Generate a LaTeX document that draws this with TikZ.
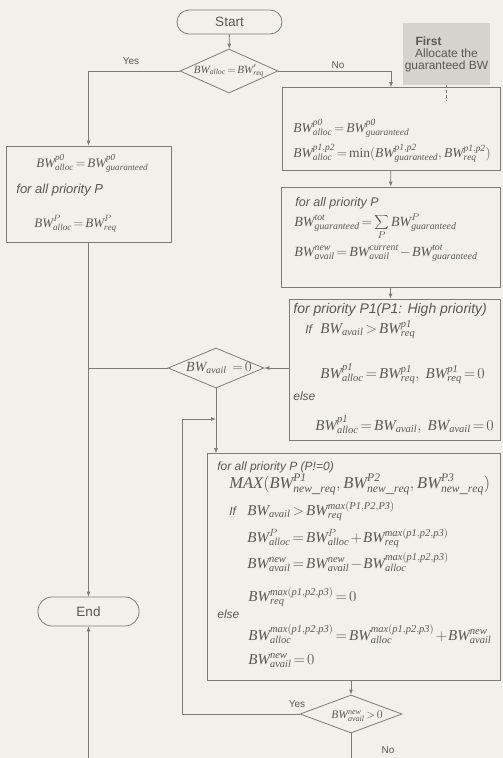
\documentclass[tikz,border=0pt]{standalone}
\usepackage{fix-cm}
\usepackage{fontspec}
\setmainfont{Liberation Serif}
\newfontfamily\flowfont{Liberation Sans}
\usetikzlibrary{arrows.meta, positioning, shapes.geometric, calc}
\definecolor{paper}{RGB}{243,240,234}
\definecolor{linegray}{RGB}{128,122,117}
\definecolor{inkgray}{RGB}{92,87,83}
\definecolor{notegray}{RGB}{214,210,204}
\newcommand{\BW}{\mathit{BW}}
\newcommand{\tw}[1]{\mathit{#1}}
\newcommand{\eqsize}[1]{\fontsize{#1}{#1}\selectfont}
\thickmuskip=2.5mu plus 1mu
\medmuskip=1.5mu plus 1mu
\tikzset{
  box/.style={rectangle, draw=linegray, inner sep=0pt},
  decision/.style={diamond, draw=linegray, inner sep=0pt},
  terminal/.style={rectangle, rounded corners=12pt, draw=linegray, text=inkgray,
              font=\flowfont\eqsize{13.5}},
  note/.style={rectangle, fill=notegray, inner sep=0pt, align=center, text=inkgray,
              font=\flowfont\eqsize{12}},
  flow/.style={-{Latex[length=5pt, width=4pt]}, draw=linegray},
  link/.style={draw=linegray},
  eq/.style={anchor=base west, inner sep=0pt, text=inkgray},
  cmt/.style={anchor=base west, inner sep=0pt, text=inkgray, font=\flowfont\itshape\eqsize{12}},
  yesno/.style={inner sep=0pt, text=inkgray, font=\flowfont\eqsize{10}},
}

\begin{document}
\begin{tikzpicture}[x=1pt, y=-1pt, line width=0.8pt]
    \clip (0,0) rectangle (503,758);
    \fill[paper] (0,0) rectangle (503,758);

    % shapes of the flow
    \node[terminal, minimum width=105pt, minimum height=24pt] (start) at (229.5,22) {Start};
    \node[decision, minimum width=98pt, minimum height=44pt] (d1) at (229,71) {};
    \node[note, minimum width=87pt, minimum height=62pt] (note) at (446.5,54)
        {\makebox[62pt][l]{\textbf{First}}\\ Allocate the\\ guaranteed BW};
    \node[box, minimum width=218pt, minimum height=83pt] (box1) at (391,129) {};
    \node[box, minimum width=219pt, minimum height=100pt] (box2) at (390.5,237) {};
    \node[box, minimum width=211pt, minimum height=141pt] (box3) at (394.5,369.5) {};
    \node[box, minimum width=165pt, minimum height=96pt] (lbox) at (88.5,194) {};
    \node[decision, minimum width=96pt, minimum height=40pt] (d2) at (216,368) {};
    \node[box, minimum width=293pt, minimum height=227pt] (box4) at (353.5,567) {};
    \node[decision, minimum width=102pt, minimum height=38pt] (d3) at (351,714) {};
    \node[terminal, minimum width=101pt, minimum height=29pt, rounded corners=14pt] (endn) at (88.5,611.5) {End};

    % texts of the decisions
    \node[eq, anchor=center, font=\eqsize{11}] (d1txt) at (d1) {$\BW_{\tw{alloc}}=\BW'_{\tw{req}}$};
    \node[eq, anchor=center, font=\eqsize{14}] (d2txt) at (219,368) {$\BW_{\tw{avail}}\;\;=0$};
    \node[eq, anchor=center, font=\eqsize{11.5}] (d3txt) at (357,716) {$\BW^{\tw{new}}_{\tw{avail}}>0$};

    % box 1
    \node[eq, font=\eqsize{13.5}] (b1a) at (293,132) {$\BW^{\tw{p0}}_{\tw{alloc}}=\BW^{\tw{p0}}_{\tw{guaranteed}}$};
    \node[eq, font=\eqsize{13.5}] (b1b) at (293,157)
        {$\BW^{\tw{p1,p2}}_{\tw{alloc}}=\min(\BW^{\tw{p1,p2}}_{\tw{guaranteed}},\BW^{\tw{p1,p2}}_{\tw{req}})$};

    % box 2
    \node[cmt, font=\flowfont\itshape\eqsize{12.5}] (b2t) at (295,206) {for all priority P};
    \node[eq, font=\eqsize{14}] (b2a) at (294,226)
        {$\displaystyle\BW^{\tw{tot}}_{\tw{guaranteed}}=\sum_{P}\BW^{P}_{\tw{guaranteed}}$};
    \node[eq, font=\eqsize{14}] (b2b) at (294,256)
        {$\BW^{\tw{new}}_{\tw{avail}}=\BW^{\tw{current}}_{\tw{avail}}-\BW^{\tw{tot}}_{\tw{guaranteed}}$};

    % box 3
    \node[cmt, font=\flowfont\itshape\eqsize{14}] (b3t) at (293,313) {for priority P1(P1: High priority)};
    \node[cmt] (b3if) at (305,333) {If};
    \node[eq, font=\eqsize{15}] (b3a) at (320,333) {$\BW_{\tw{avail}}>\BW^{\tw{p1}}_{\tw{req}}$};
    \node[eq, font=\eqsize{15}] (b3b) at (320,378)
        {$\BW^{\tw{p1}}_{\tw{alloc}}=\BW^{\tw{p1}}_{\tw{req}},\ \BW^{\tw{p1}}_{\tw{req}}=0$};
    \node[cmt] (b3else) at (293,400) {else};
    \node[eq, font=\eqsize{15}] (b3c) at (315,430)
        {$\BW^{\tw{p1}}_{\tw{alloc}}=\BW_{\tw{avail}},\ \BW_{\tw{avail}}=0$};

    % left box
    \node[eq, font=\eqsize{13}] (lba) at (36,167) {$\BW^{\tw{p0}}_{\tw{alloc}}=\BW^{\tw{p0}}_{\tw{guaranteed}}$};
    \node[cmt, font=\flowfont\itshape\eqsize{13}] (lbt) at (16,193) {for all priority P};
    \node[eq, font=\eqsize{13}] (lbb) at (34,227) {$\BW^{P}_{\tw{alloc}}=\BW^{P}_{\tw{req}}$};

    % box 4
    \node[cmt] (b4t) at (217,470) {for all priority P (P!=0)};
    \node[eq, font=\eqsize{16.5}] (b4a) at (229,488)
        {$\tw{MAX}(\BW^{\tw{P1}}_{\tw{new\_req}},\BW^{\tw{P2}}_{\tw{new\_req}},\BW^{\tw{P3}}_{\tw{new\_req}})$};
    \node[cmt] (b4if) at (229,515) {If};
    \node[eq, font=\eqsize{15}] (b4b) at (247,515) {$\BW_{\tw{avail}}>\BW^{\tw{max(P1,P2,P3)}}_{\tw{req}}$};
    \node[eq, font=\eqsize{15}] (b4c) at (247,542)
        {$\BW^{P}_{\tw{alloc}}=\BW^{P}_{\tw{alloc}}+\BW^{\tw{max(p1,p2,p3)}}_{\tw{req}}$};
    \node[eq, font=\eqsize{15}] (b4d) at (247,568)
        {$\BW^{\tw{new}}_{\tw{avail}}=\BW^{\tw{new}}_{\tw{avail}}-\BW^{\tw{max(p1,p2,p3)}}_{\tw{alloc}}$};
    \node[eq, font=\eqsize{15}] (b4e) at (248,601) {$\BW^{\tw{max(p1,p2,p3)}}_{\tw{req}}=0$};
    \node[cmt] (b4else) at (217,618) {else};
    \node[eq, font=\eqsize{15}] (b4f) at (248,640)
        {$\BW^{\tw{max(p1,p2,p3)}}_{\tw{alloc}}=\BW^{\tw{max(p1,p2,p3)}}_{\tw{alloc}}+\BW^{\tw{new}}_{\tw{avail}}$};
    \node[eq, font=\eqsize{15}] (b4g) at (248,664) {$\BW^{\tw{new}}_{\tw{avail}}=0$};

    % yes / no labels
    \node[yesno] (yes1) at (131,61) {Yes};
    \node[yesno] (no1) at (338,65) {No};
    \node[yesno] (yes2) at (297,704) {Yes};
    \node[yesno] (no2) at (388,750) {No};

    % connectors
    \coordinate (notetip) at ([yshift=-16pt]note.south);
    \coordinate (loopturn) at (182,419);
    \coordinate (loopin) at (d2.south |- loopturn);
    \coordinate (exitturn) at (351,780);
    \draw[flow] (start) -- (d1);
    \draw[flow] (d1.west) -| (lbox.north);
    \draw[flow] (d1.east) -| (box1.north);
    \draw[linegray, densely dashed, line width=0.6pt] (note.south) -- (notetip);
    \draw[flow] (box1) -- (box2);
    \draw[flow] (box2.south) -- (box2.south |- box3.north);
    \draw[flow] (box3.west |- d2) -- (d2.east);
    \draw[link] (d2.west) -- (d2.west -| lbox.south);
    \draw[flow] (lbox.south) -- (endn.north);
    \draw[flow] (d2.south) -- (d2.south |- box4.north);
    \draw[flow] (box4.south -| d3.north) -- (d3.north);
    \draw[flow] (d3.west) -| (loopturn) -- (loopin);
    \draw[flow] (d3.south) -- (exitturn) -| (endn.south);
\end{tikzpicture}
\end{document}
